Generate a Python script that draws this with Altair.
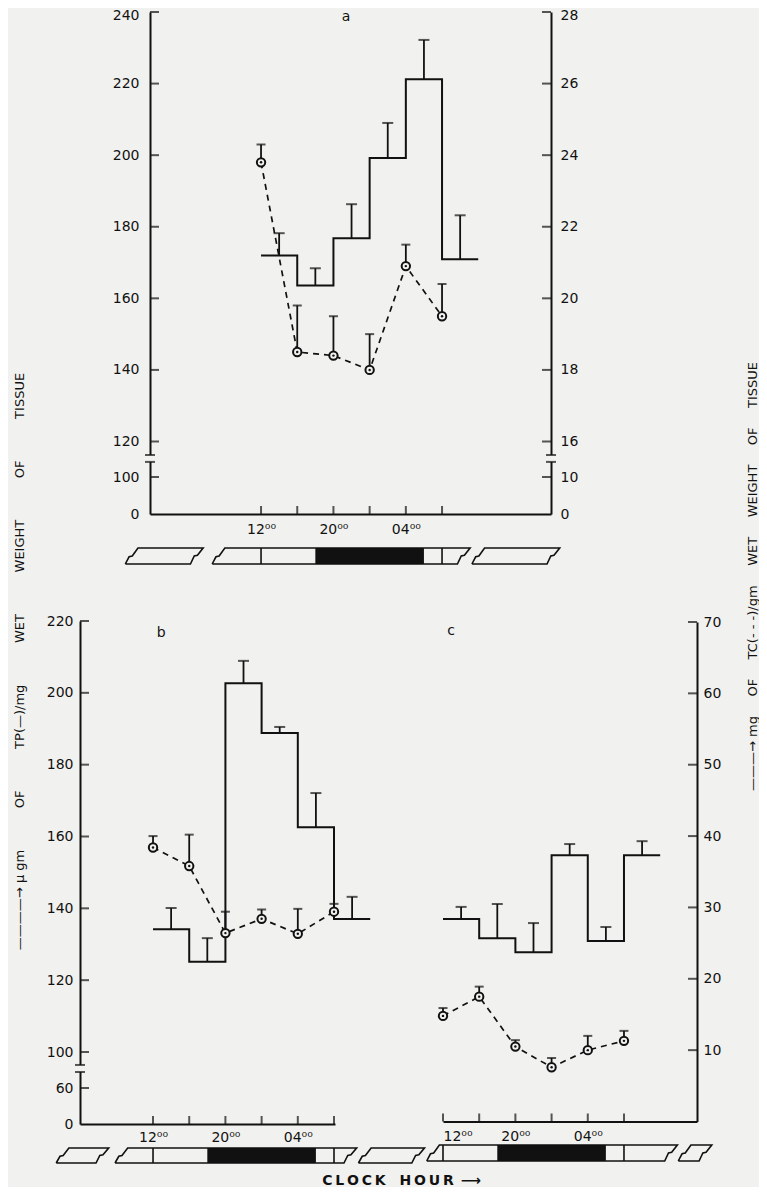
import altair as alt
import pandas as pd

# ---------------- values ----------------
# clock hours: 28 = 04:00 and 32 = 08:00 of the following day
step_start = [12, 16, 20, 24, 28, 32]
step_mid = [14, 18, 22, 26, 30, 34]
step_end = [36]
point_hours = [12, 16, 20, 24, 28, 32]

# panel a  (TP solid steps, left axis; TC dashed, right axis)
tp_a = [172.0, 163.6, 176.8, 199.2, 221.2, 170.9]
tp_a_top = [178.2, 168.4, 186.3, 209.0, 232.2, 183.2]
tc_a = [23.8, 18.5, 18.4, 18.0, 20.9, 19.5]
tc_a_top = [24.3, 19.8, 19.5, 19.0, 21.5, 20.4]
# panel b
tp_b = [134.2, 125.1, 202.7, 188.8, 162.6, 137.0]
tp_b_top = [140.1, 131.7, 208.9, 190.5, 172.1, 143.2]
tc_b = [38.4, 35.8, 26.4, 28.4, 26.3, 29.4]
tc_b_top = [40.0, 40.2, 29.4, 29.7, 29.8, 30.5]
# panel c
tp_c = [137.0, 131.7, 127.8, 154.8, 130.9, 154.8]
tp_c_top = [140.4, 141.2, 135.9, 157.9, 134.8, 158.7]
tc_c = [14.8, 17.5, 10.5, 7.6, 10.0, 11.3]
tc_c_top = [15.9, 18.9, 11.4, 8.9, 12.0, 12.7]

hour_ticks = [12, 16, 20, 24, 28, 32]
hour_label_values = [12, 20, 28]
hour_label_texts = ["12\u2070\u2070", "20\u2070\u2070", "04\u2070\u2070"]

a_left_values = [0, 100, 120, 140, 160, 180, 200, 220, 240]
a_right_values = [0, 10, 16, 18, 20, 22, 24, 26, 28]
b_left_values = [0, 60, 100, 120, 140, 160, 180, 200, 220]
c_right_values = [10, 20, 30, 40, 50, 60, 70]

dark_period = [18, 30]      # dark phase 18:00 - 06:00
window_marks = [12, 32]     # 12:00 and 08:00

band_a = [[-3.0, 5.6], [6.6, 35.1], [35.3, 45.0]]
band_b = [[1.3, 7.1], [7.8, 34.5], [34.7, 42.0]]
band_c = [[10.2, 37.9], [38.0, 41.7]]

a_break = [108.5, 112.4]
b_break = [77.8, 85.6]

G3 = "\u2003\u2003\u2003\u2009"
G2 = "\u2003\u2002"
LEFT_TITLE = ("\u2014\u2014\u2014\u2014\u2192 \u00b5 gm" + G3 + "OF" + G3 + "TP(\u2014)/mg" + G3
              + "WET" + G3 + "WEIGHT" + G3 + "OF" + G3 + "TISSUE")
RIGHT_TITLE = ("\u2014\u2014\u2014\u2192 mg" + G2 + "OF" + G2 + "TC(- - -)/gm" + G2 + "WET"
               + G2 + "WEIGHT" + G2 + "OF" + G2 + "TISSUE")
BOTTOM_TITLE = "C\u2009L\u2009O\u2009C\u2009K\u2003H\u2009O\u2009U\u2009R\u2002\u27f6"

# ---------------- layout ----------------
W, H = 751, 1176
PAD_TOP = 3
OX, OY = 8, 8 + PAD_TOP          # page position of the view origin
BLACK = "#111111"
BG = "#f1f1ef"
FONT = "DejaVu Sans"


def px(v):   # page x -> view x
    return v - OX


def py(v):   # page y -> view y
    return v - OY


SX_A = ([-0.27, 44.04], [px(150), px(551)])
SX_B = ([3.93, 32.11], [px(80), px(335)])
SX_C = ([12, 40.07], [px(443), px(697)])
SY_A_TP = ([0, 100, 120, 240], [py(514), py(477), py(441.5), py(12)])
SY_A_TC = ([0, 10, 16, 28], [py(514), py(477), py(441.5), py(12)])
SY_A_BAND = ([0, 1], [py(564), py(548)])
SY_BC_TP = ([0, 60, 100, 220], [py(1124), py(1088), py(1052), py(621)])
SY_BC_TC = ([0, 70], [py(1121.5), py(622)])
SY_B_BAND = ([0, 1], [py(1163), py(1148)])
SY_C_BAND = ([0, 1], [py(1161), py(1145)])


def scale(d):
    return alt.Scale(domain=d[0], range=d[1], nice=False, zero=False)


def ex(field, sx, axis=None):
    return alt.X(f"{field}:Q", scale=scale(sx), axis=axis)


def ey(field, sy, axis=None):
    return alt.Y(f"{field}:Q", scale=scale(sy), axis=axis)


label_expr = "".join(
    f"datum.value == {v} ? '{t}' : " for v, t in zip(hour_label_values, hour_label_texts)
) + "''"


def hour_axis(page_y, pad, **kw):
    kw.setdefault("title", None)
    return alt.Axis(orient="bottom", offset=py(page_y) - H, values=hour_label_values,
                    labelExpr=label_expr, ticks=False, tickSize=0, labelPadding=pad,
                    domainWidth=2, domainColor=BLACK, grid=False, labelOverlap=False, **kw)


def value_axis(orient, page_x, values, pad, **kw):
    kw.setdefault("title", None)
    offset = -px(page_x) if orient == "left" else px(page_x) - W
    return alt.Axis(orient=orient, offset=offset, values=values, ticks=False, tickSize=0,
                    labelPadding=pad, domainWidth=2, domainColor=BLACK, grid=False,
                    labelOverlap=False, labelFlush=False, **kw)


def top_label_nudge(top_value):
    # keep the topmost label inside the picture
    return {"condition": {"test": f"datum.value == {top_value}", "value": 3}, "value": 0}


def panel(sx, sy_tp, sy_tc, tp, tp_top, tc, tc_top, x_axis=None, tp_axis=None, tc_axis=None):
    L = []
    steps = pd.DataFrame({"h": step_start + step_end, "v": tp + tp[-1:]})
    L.append(alt.Chart(steps).mark_line(interpolate="step-after", color=BLACK, strokeWidth=2)
             .encode(x=ex("h", sx, x_axis), y=ey("v", sy_tp, tp_axis)))
    bars = pd.DataFrame({"h": step_mid, "v": tp, "top": tp_top})
    L.append(alt.Chart(bars).mark_rule(color=BLACK, strokeWidth=1.8)
             .encode(x=ex("h", sx), y=ey("v", sy_tp), y2="top:Q"))
    L.append(alt.Chart(bars).mark_tick(orient="horizontal", size=11, thickness=2, color=BLACK)
             .encode(x=ex("h", sx), y=ey("top", sy_tp)))
    pts = pd.DataFrame({"h": point_hours, "v": tc, "top": tc_top})
    L.append(alt.Chart(pts).mark_line(color=BLACK, strokeWidth=1.7, strokeDash=[6, 5])
             .encode(x=ex("h", sx), y=ey("v", sy_tc, tc_axis)))
    L.append(alt.Chart(pts).mark_rule(color=BLACK, strokeWidth=1.8)
             .encode(x=ex("h", sx), y=ey("v", sy_tc), y2="top:Q"))
    L.append(alt.Chart(pts).mark_tick(orient="horizontal", size=9, thickness=2, color=BLACK)
             .encode(x=ex("h", sx), y=ey("top", sy_tc)))
    L.append(alt.Chart(pts).mark_circle(size=70, fill=BG, stroke=BLACK, strokeWidth=2, opacity=1)
             .encode(x=ex("h", sx), y=ey("v", sy_tc)))
    L.append(alt.Chart(pts).mark_circle(size=6, color=BLACK, opacity=1)
             .encode(x=ex("h", sx), y=ey("v", sy_tc)))
    return L


def yticks(xval, values, sx, sy, direction):
    df = pd.DataFrame({"h": [xval] * len(values), "v": values})
    return alt.Chart(df).mark_tick(orient="horizontal", size=9, thickness=2,
                                   xOffset=4.5 * direction, color=BLACK).encode(
        x=ex("h", sx), y=ey("v", sy))


def xticks(yval, sx, sy):
    df = pd.DataFrame({"h": hour_ticks, "v": [yval] * len(hour_ticks)})
    return alt.Chart(df).mark_tick(orient="vertical", size=8, thickness=2,
                                   yOffset=-4, color=BLACK).encode(
        x=ex("h", sx), y=ey("v", sy))


def axis_break(xvals, lohi, sx, sy):
    df = pd.DataFrame({"h": xvals, "lo": [lohi[0]] * len(xvals), "hi": [lohi[1]] * len(xvals)})
    white = alt.Chart(df).mark_rule(color=BG, strokeWidth=7).encode(
        x=ex("h", sx), y=ey("lo", sy), y2="hi:Q")
    caps = pd.DataFrame({"h": [x for x in xvals for _ in lohi], "v": lohi * len(xvals)})
    cap = alt.Chart(caps).mark_tick(orient="horizontal", size=10, thickness=2, color=BLACK).encode(
        x=ex("h", sx), y=ey("v", sy))
    return [white, cap]


def torn(Lh, Rh, s=1.4):
    return [(Lh, 0), (Lh + 0.3 * s, 0.45), (Lh + 0.55 * s, 0.5), (Lh + s, 1),
            (Rh, 1), (Rh - 0.45 * s, 0.55), (Rh - 0.7 * s, 0.5), (Rh - s, 0), (Lh, 0)]


def band(sx, sy, pieces):
    rows = []
    for i, (Lh, Rh) in enumerate(pieces):
        for j, (h, v) in enumerate(torn(Lh, Rh)):
            rows.append({"piece": i, "ord": j, "h": h, "v": v})
    outline = pd.DataFrame(rows)
    dark = pd.DataFrame({"h": [dark_period[0]], "h2": [dark_period[1]], "v": [0], "v2": [1]})
    div = pd.DataFrame({"h": window_marks, "v": [0, 0], "v2": [1, 1]})
    return [
        alt.Chart(dark).mark_rect(color=BLACK).encode(
            x=ex("h", sx), x2="h2:Q", y=ey("v", sy), y2="v2:Q"),
        alt.Chart(div).mark_rule(color=BLACK, strokeWidth=1.6).encode(
            x=ex("h", sx), y=ey("v", sy), y2="v2:Q"),
        alt.Chart(outline).mark_line(color=BLACK, strokeWidth=1.6).encode(
            x=ex("h", sx), y=ey("v", sy), detail="piece:N", order="ord:Q"),
    ]


def label(txt, h, v, sx, sy):
    df = pd.DataFrame({"h": [h], "v": [v], "t": [txt]})
    return alt.Chart(df).mark_text(fontSize=14, font=FONT, color=BLACK).encode(
        x=ex("h", sx), y=ey("v", sy), text="t:N")


layers = []
layers += band(SX_A, SY_A_BAND, band_a)
layers += band(SX_B, SY_B_BAND, band_b)
layers += band(SX_C, SY_C_BAND, band_c)

# panel a
layers += panel(SX_A, SY_A_TP, SY_A_TC, tp_a, tp_a_top, tc_a, tc_a_top,
                x_axis=hour_axis(514, 8),
                tp_axis=value_axis("left", 150, a_left_values, 11,
                                   labelOffset=top_label_nudge(a_left_values[-1])),
                tc_axis=value_axis("right", 551, a_right_values, 9,
                                   labelOffset=top_label_nudge(a_right_values[-1])))
layers.append(yticks(SX_A[0][0], a_left_values[1:], SX_A, SY_A_TP, 1))
layers.append(yticks(SX_A[0][1], a_right_values[1:], SX_A, SY_A_TC, -1))
layers.append(xticks(0, SX_A, SY_A_TP))
layers += axis_break([SX_A[0][0], SX_A[0][1]], a_break, SX_A, SY_A_TP)
layers.append(label("a", 21.4, 238.6, SX_A, SY_A_TP))

# panel b
layers += panel(SX_B, SY_BC_TP, SY_BC_TC, tp_b, tp_b_top, tc_b, tc_b_top,
                x_axis=hour_axis(1124, 6, title=BOTTOM_TITLE, titleX=px(401),
                                 titleY=py(1180) - py(1124),
                                 titleFontWeight="bold", titleFontSize=14, titleAlign="center",
                                 titleBaseline="middle", titleAngle=0),
                tp_axis=value_axis("left", 80, b_left_values, 7, title=LEFT_TITLE,
                                   titleX=px(19) - px(80), titleY=py(661), titleAngle=270,
                                   titleFontWeight="normal", titleFontSize=13,
                                   titleAlign="center", titleBaseline="middle"))
layers.append(yticks(SX_B[0][0], b_left_values[1:], SX_B, SY_BC_TP, 1))
layers.append(xticks(0, SX_B, SY_BC_TP))
layers += axis_break([SX_B[0][0]], b_break, SX_B, SY_BC_TP)
layers.append(label("b", 12.9, 216.6, SX_B, SY_BC_TP))

# panel c
layers += panel(SX_C, SY_BC_TP, SY_BC_TC, tp_c, tp_c_top, tc_c, tc_c_top,
                x_axis=hour_axis(1121.5, 8),
                tc_axis=value_axis("right", 697, c_right_values, 6, title=RIGHT_TITLE,
                                   titleX=px(752) - px(697), titleY=py(576), titleAngle=270,
                                   titleFontWeight="normal", titleFontSize=13,
                                   titleAlign="center", titleBaseline="middle"))
layers.append(yticks(SX_C[0][1], c_right_values, SX_C, SY_BC_TC, -1))
layers.append(xticks(0, SX_C, SY_BC_TC))
layers.append(label("c", 12.9, 68.8, SX_C, SY_BC_TC))

chart = (
    alt.layer(*layers)
    .resolve_scale(x="independent", y="independent")
    .properties(width=W, height=H, background=BG,
                padding={"left": 0, "top": PAD_TOP, "right": 0, "bottom": 0},
                autosize=alt.AutoSizeParams(type="none"))
    .configure_view(stroke=None)
    .configure_axis(labelFont=FONT, labelFontSize=14, labelColor=BLACK,
                    titleFont=FONT, titleColor=BLACK)
)

chart.save("out.html", embed_options={"renderer": "svg", "actions": False})
